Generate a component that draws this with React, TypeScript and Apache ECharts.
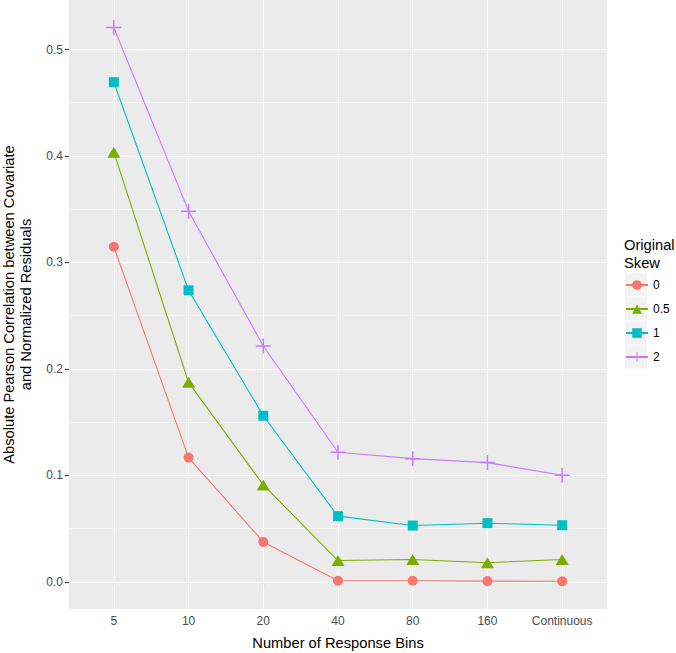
import React, { useEffect, useRef } from "react";
import * as echarts from "echarts";

const categories = ["5", "10", "20", "40", "80", "160", "Continuous"];
const skewNames = ["0", "0.5", "1", "2"];
const skew0 = [0.3147, 0.1167, 0.0375, 0.001, 0.001, 0.0007, 0.0005];
const skew05 = [0.4036, 0.1874, 0.091, 0.02, 0.021, 0.018, 0.021];
const skew1 = [0.4693, 0.2738, 0.156, 0.0617, 0.0529, 0.0551, 0.0532];
const skew2 = [0.5207, 0.3482, 0.2215, 0.1217, 0.1157, 0.112, 0.1001];
const yTicks = [0, 0.1, 0.2, 0.3, 0.4, 0.5];
const yMinor = [0.05, 0.15, 0.25, 0.35, 0.45];

const colors = ["#F8766D", "#7CAE00", "#00BFC4", "#C77CFF"];
const symbols = [
  "circle",
  "triangle",
  "rect",
  "path://M9,0 H11 V9 H20 V11 H11 V20 H9 V11 H0 V9 H9 Z",
];
const symbolSizes: any[] = [10, [13, 11], 10, 15];
const FONT = "'Liberation Sans', Arial, Helvetica, sans-serif";

export default function App() {
  const ref = useRef<HTMLDivElement>(null);
  useEffect(() => {
    if (!ref.current) return;
    const chart = echarts.init(ref.current, null, { renderer: "svg" });
    const allSeries = [skew0, skew05, skew1, skew2];
    const xPositions = categories.map((_, i) => i + 1);

    const gridSeries: any = {
      name: "__grid",
      type: "line",
      data: [],
      z: 1,
      silent: true,
      markLine: {
        silent: true,
        symbol: "none",
        z: 1,
        animation: false,
        label: { show: false },
        data: [
          ...yMinor.map((v) => ({ yAxis: v, lineStyle: { color: "#FFFFFF", width: 0.55, type: "solid" } })),
          ...yTicks.map((v) => ({ yAxis: v, lineStyle: { color: "#FFFFFF", width: 1.1, type: "solid" } })),
          ...xPositions.map((v) => ({ xAxis: v, lineStyle: { color: "#FFFFFF", width: 1.1, type: "solid" } })),
        ],
      },
    };

    const dataSeries = allSeries.map((vals, si) => ({
      name: skewNames[si],
      type: "line",
      z: 3,
      data: vals.map((v, i) => [i + 1, v]),
      symbol: symbols[si],
      symbolSize: symbolSizes[si],
      showSymbol: true,
      lineStyle: { color: colors[si], width: 1.1 },
      itemStyle: { color: colors[si] },
      emphasis: { disabled: true },
    }));

    const legendBoxes = skewNames.map((_, i) => ({
      type: "rect",
      shape: { x: 625, y: 273.5 + i * 24, width: 22, height: 23 },
      style: { fill: "#F2F2F2" },
      z: 0,
    }));

    chart.setOption({
      animation: false,
      backgroundColor: "#FFFFFF",
      textStyle: { fontFamily: FONT },
      grid: {
        left: 69,
        right: 69,
        top: 0,
        bottom: 44,
        show: true,
        backgroundColor: "#EBEBEB",
        borderWidth: 0,
        containLabel: false,
        outerBoundsMode: "none",
      },
      xAxis: {
        type: "value",
        min: 0.4,
        max: 7.6,
        name: "Number of Response Bins",
        nameLocation: "middle",
        nameGap: 25,
        nameTextStyle: { color: "#000000", fontSize: 14.7, fontFamily: FONT, lineHeight: 17 },
        axisLine: { show: false },
        splitLine: { show: false },
        axisTick: {
          show: true,
          length: 4,
          customValues: xPositions,
          lineStyle: { color: "#333333", width: 1.1 },
        },
        axisLabel: {
          customValues: xPositions,
          formatter: (v: number) => categories[Math.round(v) - 1] ?? "",
          color: "#4D4D4D",
          fontSize: 12,
          fontFamily: FONT,
          margin: 6,
        },
      },
      yAxis: {
        type: "value",
        min: -0.0255,
        max: 0.5465,
        name: "Absolute Pearson Correlation between Covariate\nand Normalized Residuals",
        nameLocation: "middle",
        nameGap: 35,
        nameTextStyle: { color: "#000000", fontSize: 14.7, fontFamily: FONT, lineHeight: 17 },
        axisLine: { show: false },
        splitLine: { show: false },
        axisTick: {
          show: true,
          length: 4,
          customValues: yTicks,
          lineStyle: { color: "#333333", width: 1.1 },
        },
        axisLabel: {
          customValues: yTicks,
          formatter: (v: number) => v.toFixed(1),
          color: "#4D4D4D",
          fontSize: 12,
          fontFamily: FONT,
          margin: 6,
        },
      },
      title: {
        text: "Original\nSkew",
        left: 624,
        top: 236,
        padding: 0,
        textStyle: {
          fontSize: 14.7,
          fontWeight: "normal",
          color: "#000000",
          fontFamily: FONT,
          lineHeight: 17.7,
        },
      },
      legend: {
        data: skewNames,
        orient: "vertical",
        left: 625,
        top: 279,
        padding: 0,
        itemWidth: 22,
        itemHeight: 12,
        itemGap: 12,
        selectedMode: false,
        textStyle: { fontSize: 12, color: "#000000", fontFamily: FONT, lineHeight: 12 },
      },
      graphic: legendBoxes,
      series: [gridSeries, ...dataSeries],
    });
    return () => chart.dispose();
  }, []);
  return (
    <div
      ref={ref}
      style={{ position: "absolute", left: 0, top: 0, width: 676, height: 653 }}
    />
  );
}
